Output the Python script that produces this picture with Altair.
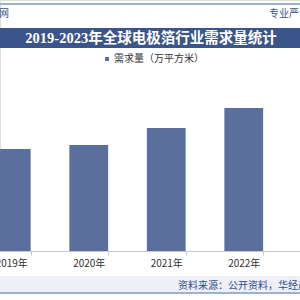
import altair as alt
import pandas as pd

years = ["2019年", "2020年", "2021年", "2022年", "2023年"]
demand = [20400, 21200, 24600, 28600, 31000]
series_name = "需求量（万平方米）"
title_text = "2019-2023年全球电极箔行业需求量统计"
source_text = "资料来源：公开资料，华经产业研究院"
top_left_text = "网"
top_right_text = "专业严谨"

BAR = "#5b6f9e"
DARK = "#3b5489"

df = pd.DataFrame({"year": years, "value": demand, "series": [series_name] * len(years)})
one = pd.DataFrame({"k": [0]})

bars = alt.Chart(df).mark_bar(color=BAR).encode(
    x=alt.X("year:N", sort=years,
            scale=alt.Scale(range=[-27.5, 360], paddingInner=0.5, paddingOuter=0.25),
            axis=alt.Axis(title=None, labelAngle=0, tickBand="extent", domainColor="#c8c8c8",
                          tickColor="#c8c8c8", tickSize=4, labelColor="#333333", labelFontSize=10,
                          labelFont="Noto Sans CJK SC", labelPadding=3, grid=False)),
    y=alt.Y("value:Q", scale=alt.Scale(domain=[0, 50200], nice=False), axis=None),
    color=alt.Color("series:N", scale=alt.Scale(range=[BAR]),
                    legend=alt.Legend(orient="none", legendX=102, legendY=54, title=None,
                                      symbolType="square", symbolSize=16, labelFontSize=10,
                                      labelColor="#333333", labelFont="Noto Sans CJK SC",
                                      labelOffset=2, padding=0)),
)

top_line = alt.Chart(one).mark_rect(color="#9fb0d2").encode(
    x=alt.value(0), x2=alt.value(300), y=alt.value(3), y2=alt.value(5))
title_bar = alt.Chart(one).mark_rect(color=DARK).encode(
    x=alt.value(0), x2=alt.value(300), y=alt.value(28), y2=alt.value(48))
title = alt.Chart(one).mark_text(text=title_text, color="white", fontSize=14.5, fontWeight="bold",
                                  font="Liberation Serif, Noto Sans CJK SC", align="center",
                                  baseline="middle").encode(x=alt.value(151), y=alt.value(38.5))
tl = alt.Chart(one).mark_text(text=top_left_text, color=DARK, fontSize=10, align="left",
                               baseline="middle", font="Noto Sans CJK SC").encode(
    x=alt.value(-1), y=alt.value(14))
tr = alt.Chart(one).mark_text(text=top_right_text, color=DARK, fontSize=10, align="left",
                               baseline="middle", font="Noto Sans CJK SC").encode(
    x=alt.value(269), y=alt.value(14))
grey_band = alt.Chart(one).mark_rect(color="#eef0f5").encode(
    x=alt.value(0), x2=alt.value(300), y=alt.value(276), y2=alt.value(292))
bottom_line = alt.Chart(one).mark_rect(color="#9fb0d2").encode(
    x=alt.value(0), x2=alt.value(300), y=alt.value(292), y2=alt.value(294))
source = alt.Chart(one).mark_text(text=source_text, color="#2e4d8c", fontSize=10, align="left",
                                   baseline="middle", font="Noto Sans CJK SC").encode(
    x=alt.value(178), y=alt.value(286))

chart = alt.layer(top_line, title_bar, title, tl, tr, grey_band, bottom_line, source, bars).properties(
    width=300, height=251,
    autosize=alt.AutoSizeParams(type="none"),
    padding={"left": 0, "top": 0, "right": 0, "bottom": 49},
).configure_view(stroke=None).configure(background="white")

chart.save("out.html", embed_options={"renderer": "svg", "actions": False})
